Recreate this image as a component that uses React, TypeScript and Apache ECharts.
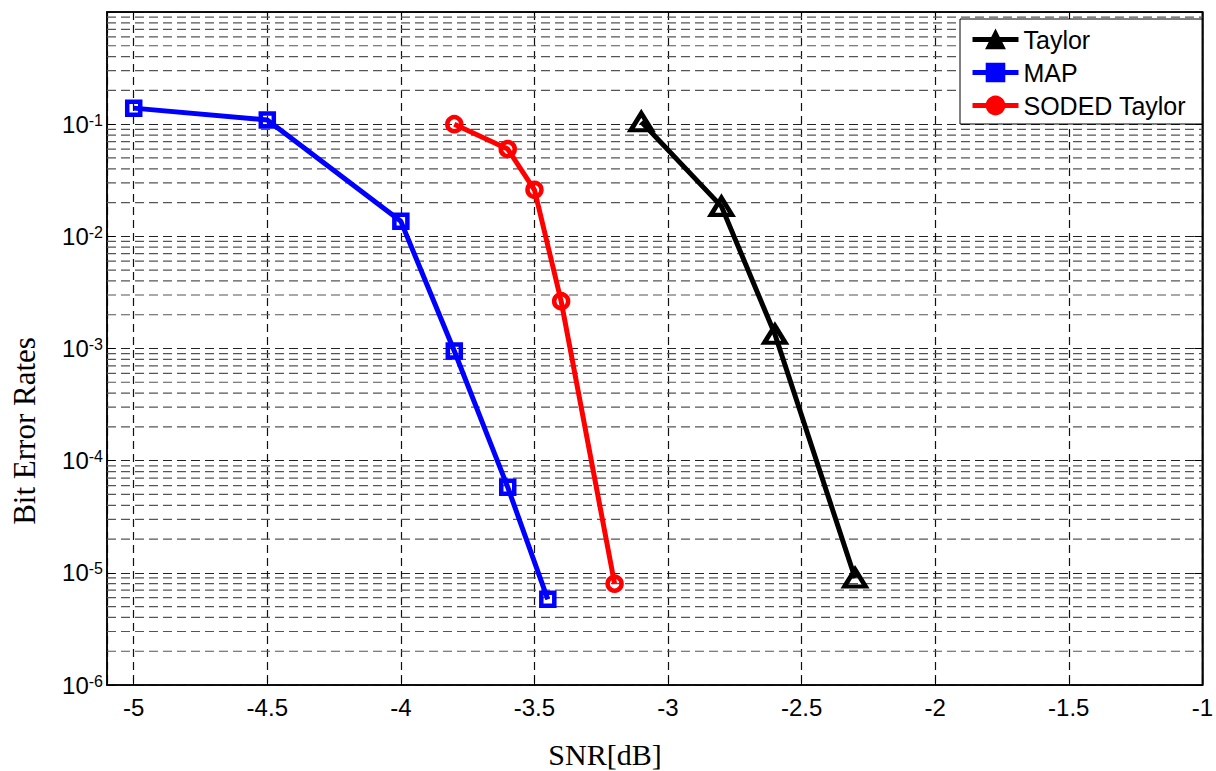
import React, { useEffect, useRef } from "react";
import * as echarts from "echarts";

// ---- data ----
const SERIES_NAMES = ["Taylor", "MAP", "SODED Taylor"];
const TAYLOR_X = [-3.1, -2.8, -2.6, -2.3];
const TAYLOR_Y = [0.105, 0.0185, 0.00134, 9.0e-6];
const MAP_X = [-5, -4.5, -4, -3.8, -3.6, -3.45];
const MAP_Y = [0.139, 0.109, 0.0136, 9.5e-4, 5.8e-5, 5.8e-6];
const SODED_X = [-3.8, -3.6, -3.5, -3.4, -3.2];
const SODED_Y = [0.1, 0.06, 0.026, 0.00264, 8.0e-6];
const X_TICKS = [-5, -4.5, -4, -3.5, -3, -2.5, -2, -1.5, -1];
const X_RANGE = [-5.1, -1];
const Y_DECADES = [1e-6, 1e-5, 1e-4, 1e-3, 1e-2, 1e-1, 1];
const X_LABEL = "SNR[dB]";
const Y_LABEL = "Bit Error Rates";

const zip = (xs: number[], ys: number[]) => xs.map((x, i) => [x, ys[i]]);

const minorValues: number[] = [];
for (let d = 0; d < Y_DECADES.length - 1; d++) {
  for (let m = 2; m <= 9; m++) minorValues.push(+(Y_DECADES[d] * m).toPrecision(3));
}

const SANS = '"Liberation Sans", Arial, sans-serif';
const SERIF = '"Liberation Serif", "Times New Roman", serif';

export default function App() {
  const ref = useRef<HTMLDivElement>(null);
  useEffect(() => {
    if (!ref.current) return;
    const chart = echarts.init(ref.current, null, { renderer: "svg" });
    const yLabel = {
      fontFamily: SANS,
      fontSize: 24,
      color: "#000",
      margin: 4,
      showMaxLabel: false,
      formatter: (v: number) => `{b|10}{s|${Math.round(Math.log10(v))}}`,
      rich: {
        b: { fontFamily: SANS, fontSize: 24, lineHeight: 24, color: "#000" },
        s: { fontFamily: SANS, fontSize: 16, lineHeight: 16, verticalAlign: "top", color: "#000" },
      },
    };
    const mkSeries = (
      name: string,
      data: number[][],
      color: string,
      symbol: string,
      size: number | number[]
    ) => ({
      name,
      type: "line",
      data,
      z: 5,
      symbol,
      symbolSize: size,
      showAllSymbol: true,
      lineStyle: { color, width: 5 },
      itemStyle: { color: "rgba(0,0,0,0)", borderColor: color, borderWidth: 4.5 },
      emphasis: { disabled: true },
    });
    const xAxisBase = {
      type: "value",
      min: X_RANGE[0],
      max: X_RANGE[1],
      splitNumber: 8,
      minInterval: 0.5,
      maxInterval: 0.5,
      axisLine: { show: true, lineStyle: { color: "#000", width: 1.5 } },
      axisTick: { show: true, inside: true, length: 8, lineStyle: { color: "#000" } },
    };
    const yAxisBase = {
      type: "log",
      logBase: 10,
      min: Y_DECADES[0],
      max: Y_DECADES[Y_DECADES.length - 1],
      splitNumber: 6,
      axisLine: { show: true, lineStyle: { color: "#000", width: 1.5 } },
      axisTick: { show: true, inside: true, length: 8, lineStyle: { color: "#000" } },
    };
    chart.setOption({
      animation: false,
      grid: {
        left: 107,
        top: 12,
        right: 9,
        bottom: 86,
        show: true,
        borderColor: "#000",
        borderWidth: 1.5,
        backgroundColor: "#fff",
      },
      legend: {
        orient: "vertical",
        left: 960,
        top: 19,
        padding: [8, 16, 6, 10],
        itemGap: 8,
        itemWidth: 46,
        itemHeight: 22,
        backgroundColor: "#fff",
        borderColor: "#000",
        borderWidth: 1,
        borderRadius: 0,
        lineStyle: { width: 5 },
        textStyle: { fontFamily: SANS, fontSize: 25, color: "#000" },
        data: [
          { name: SERIES_NAMES[0], itemStyle: { color: "#000" } },
          { name: SERIES_NAMES[1], itemStyle: { color: "#0000ff" } },
          { name: SERIES_NAMES[2], itemStyle: { color: "#ff0000" } },
        ],
      },
      xAxis: [
        {
          ...xAxisBase,
          axisLabel: {
            fontFamily: SANS,
            fontSize: 24,
            color: "#000",
            margin: 10,
            showMinLabel: false,
            formatter: (v: number) => (X_TICKS.includes(v) ? String(v) : ""),
          },
          splitLine: { show: true, lineStyle: { color: "#111", type: [8, 5], width: 1.2 } },
        },
        {
          ...xAxisBase,
          position: "top",
          axisLabel: { show: false },
          splitLine: { show: false },
        },
      ],
      yAxis: [
        {
          ...yAxisBase,
          axisLabel: yLabel,
          splitLine: { show: true, lineStyle: { color: "#222", type: [9, 5], width: 1.2 } },
        },
        {
          ...yAxisBase,
          position: "right",
          axisLabel: { show: false },
          splitLine: { show: false },
        },
      ],
      series: [
        {
          name: "minorGrid",
          type: "custom",
          z: 1,
          silent: true,
          clip: false,
          data: minorValues.map((v) => [X_RANGE[0], v]),
          renderItem: (params: any, api: any) => {
            const y = api.value(1);
            const p1 = api.coord([X_RANGE[0], y]);
            const p2 = api.coord([X_RANGE[1], y]);
            return {
              type: "line",
              shape: { x1: p1[0], y1: p1[1], x2: p2[0], y2: p2[1] },
              style: { stroke: "#555", lineWidth: 1.2, lineDash: [9, 5], fill: null },
            };
          },
        },
        mkSeries(SERIES_NAMES[1], zip(MAP_X, MAP_Y), "#0000ff", "rect", 13),
        mkSeries(SERIES_NAMES[2], zip(SODED_X, SODED_Y), "#ff0000", "circle", 14),
        mkSeries(SERIES_NAMES[0], zip(TAYLOR_X, TAYLOR_Y), "#000000", "triangle", [21, 17]),
      ],
      graphic: [
        {
          type: "text",
          x: 605,
          y: 754,
          style: {
            text: X_LABEL,
            fontFamily: SERIF,
            fontSize: 30,
            fill: "#000",
            align: "center",
            verticalAlign: "middle",
          },
        },
        {
          type: "text",
          x: 24,
          y: 431,
          rotation: Math.PI / 2,
          style: {
            text: Y_LABEL,
            fontFamily: SERIF,
            fontSize: 31,
            fill: "#000",
            align: "center",
            verticalAlign: "middle",
          },
        },
      ],
    });
    return () => chart.dispose();
  }, []);
  return (
    <div
      ref={ref}
      style={{ position: "fixed", left: 0, top: 0, width: 1216, height: 771, background: "#fff" }}
    />
  );
}
